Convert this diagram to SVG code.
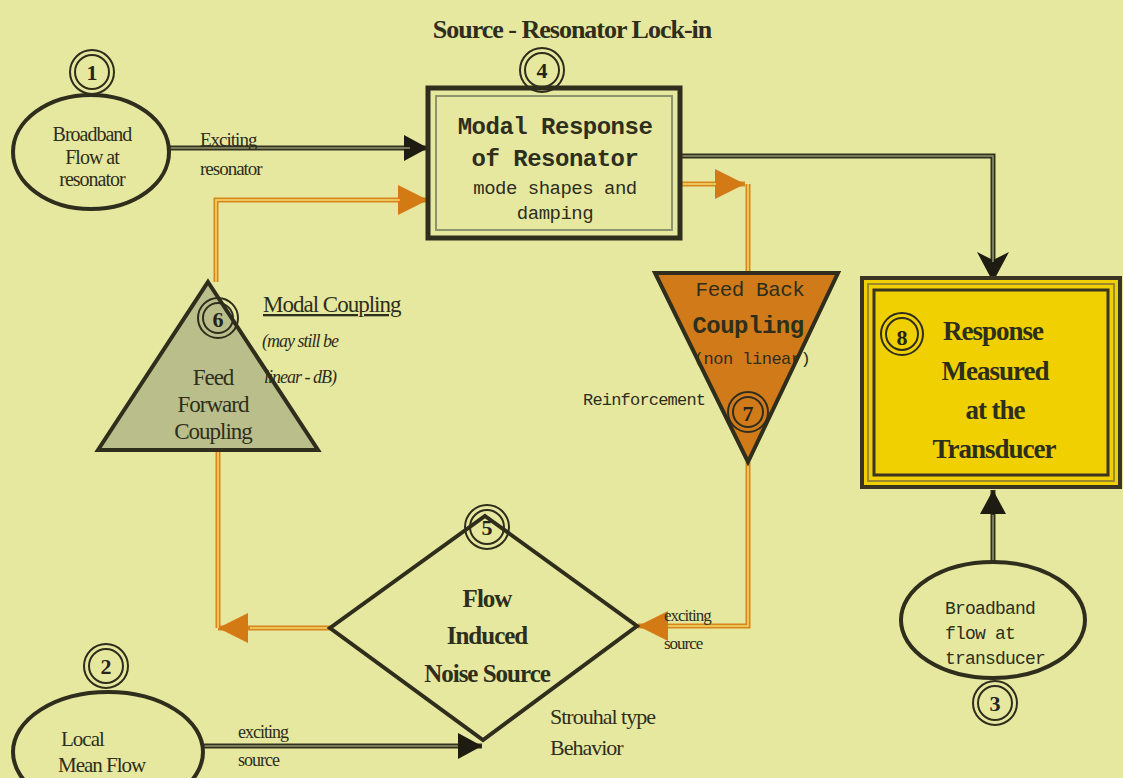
<svg xmlns="http://www.w3.org/2000/svg" width="1123" height="778" viewBox="0 0 1123 778">
<defs>
<style>
.dk{fill:none;stroke:#34321f;stroke-width:5}
.dkin{fill:none;stroke:#8e946e;stroke-width:1.5}
.or{fill:none;stroke:#d8861c;stroke-width:5}
.orin{fill:none;stroke:#f2da6a;stroke-width:1.5}
.shape{stroke:#2f2d1c;stroke-width:4}
.num{fill:none;stroke:#2f2d1c;stroke-width:2}
.numt{font-family:"Liberation Serif",serif;font-size:22px;font-weight:bold;fill:#262418;text-anchor:middle}
.serif{font-family:"Liberation Serif",serif;fill:#2e2e1c;text-anchor:middle;letter-spacing:-1px}
.lserif{font-family:"Liberation Serif",serif;fill:#2e2e1c;letter-spacing:-1px}
.mono{font-family:"Liberation Mono",monospace;fill:#2e2e1c;text-anchor:middle;letter-spacing:-0.5px}
.lmono{font-family:"Liberation Mono",monospace;fill:#2e2e1c;letter-spacing:-0.8px}
</style>
<marker id="ab" markerUnits="userSpaceOnUse" markerWidth="26" markerHeight="30" refX="24" refY="15" orient="auto"><path d="M0,2 L24,15 L0,28 Z" fill="#1e1c12"/></marker>
<marker id="ao" markerUnits="userSpaceOnUse" markerWidth="32" markerHeight="34" refX="30" refY="17" orient="auto"><path d="M0,2 L30,17 L0,32 Z" fill="#d47a14"/></marker>
<marker id="abarb" markerUnits="userSpaceOnUse" markerWidth="32" markerHeight="36" refX="30" refY="18" orient="auto"><path d="M0,2 L30,18 L0,34 L8,18 Z" fill="#1e1c12"/></marker>
</defs>
<rect width="1123" height="778" fill="#e6e8a0"/>

<text x="572" y="38" class="serif" font-size="26" font-weight="bold">Source - Resonator Lock-in</text>

<g id="connectors">
<path d="M170,148 L428,148" class="dk" marker-end="url(#ab)"/>
<path d="M170,148 L410,148" class="dkin"/>
<path d="M680,156 L993,156 L993,282" class="dk" marker-end="url(#abarb)"/>
<path d="M680,156 L993,156 L993,262" class="dkin"/>
<path d="M993,562 L993,490" class="dk" marker-end="url(#ab)"/>
<path d="M993,562 L993,515" class="dkin"/>
<path d="M203,746 L482,746" class="dk" marker-end="url(#ab)"/>
<path d="M203,746 L458,746" class="dkin"/>
<path d="M216,282 L216,200 L428,200" class="or" marker-end="url(#ao)"/>
<path d="M216,282 L216,200 L400,200" class="orin"/>
<path d="M680,184 L745,184" class="or" marker-end="url(#ao)"/>
<path d="M680,184 L716,184" class="orin"/>
<path d="M748,184 L748,273" class="or"/>
<path d="M748,184 L748,273" class="orin"/>
<path d="M748,462 L748,626 L638,626" class="or" marker-end="url(#ao)"/>
<path d="M748,462 L748,626 L668,626" class="orin"/>
<path d="M330,628 L218,628" class="or" marker-end="url(#ao)"/>
<path d="M330,628 L250,628" class="orin"/>
<path d="M218,450 L218,628" class="or"/>
<path d="M218,450 L218,628" class="orin"/>
<text x="200" y="146" class="lserif" font-size="19">Exciting</text>
<text x="200" y="175" class="lserif" font-size="19">resonator</text>
<text x="238" y="738" class="lserif" font-size="18">exciting</text>
<text x="238" y="766" class="lserif" font-size="18">source</text>
<text x="664" y="621" class="lserif" font-size="17">exciting</text>
<text x="664" y="649" class="lserif" font-size="17">source</text>
</g>

<g id="node1">
<ellipse cx="91" cy="152" rx="78" ry="57" fill="#e6e8a0" class="shape"/>
<circle cx="92" cy="72" r="22" fill="#e6e8a0" class="num"/>
<circle cx="92" cy="72" r="17" class="num"/>
<text x="92" y="80" class="numt">1</text>
<text x="92" y="141" class="serif" font-size="20">Broadband</text>
<text x="92" y="164" class="serif" font-size="20">Flow at</text>
<text x="92" y="186" class="serif" font-size="20">resonator</text>
</g>

<g id="node4">
<rect x="428" y="88" width="252" height="150" fill="#e6e8a0" stroke="#2f2d1c" stroke-width="5"/>
<rect x="436" y="96" width="236" height="134" fill="none" stroke="#8e946e" stroke-width="2"/>
<circle cx="542" cy="70" r="22" fill="#e6e8a0" class="num"/>
<circle cx="542" cy="70" r="17" class="num"/>
<text x="542" y="78" class="numt">4</text>
<text x="555" y="134" class="mono" font-size="24" font-weight="bold" letter-spacing="-0.8">Modal Response</text>
<text x="555" y="166" class="mono" font-size="24" font-weight="bold" letter-spacing="-0.8">of Resonator</text>
<text x="555" y="194" class="mono" font-size="19" letter-spacing="-0.8">mode shapes and</text>
<text x="555" y="219" class="mono" font-size="19" letter-spacing="-0.8">damping</text>
</g>

<g id="node8">
<rect x="862" y="278" width="258" height="209" fill="#f0d000" stroke="#3a3420" stroke-width="4"/>
<rect x="868" y="284" width="246" height="197" fill="none" stroke="#9c8a2a" stroke-width="2"/>
<rect x="874" y="290" width="234" height="185" fill="#f0d000" stroke="#3a3420" stroke-width="3"/>
<circle cx="902" cy="334" r="21" fill="#f0d000" class="num"/>
<circle cx="902" cy="334" r="16" class="num"/>
<text x="902" y="345" class="numt">8</text>
<text x="993" y="340" class="serif" font-size="27" font-weight="bold" letter-spacing="-1.5">Response</text>
<text x="995" y="380" class="serif" font-size="27" font-weight="bold" letter-spacing="-1.5">Measured</text>
<text x="995" y="419" class="serif" font-size="27" font-weight="bold" letter-spacing="-1.5">at the</text>
<text x="994" y="458" class="serif" font-size="27" font-weight="bold" letter-spacing="-1.5">Transducer</text>
</g>

<g id="node6">
<path d="M208,282 L318,450 L98,450 Z" fill="#b9be8a" class="shape"/>
<circle cx="218" cy="318" r="20" fill="#b9be8a" class="num"/>
<circle cx="218" cy="318" r="15" class="num"/>
<text x="218" y="327" class="numt">6</text>
<text x="213" y="385" class="serif" font-size="23" letter-spacing="-1.3">Feed</text>
<text x="213" y="412" class="serif" font-size="23" letter-spacing="-1.3">Forward</text>
<text x="213" y="439" class="serif" font-size="23" letter-spacing="-1.3">Coupling</text>
<text x="263" y="312" class="lserif" font-size="23" letter-spacing="-1.2" text-decoration="underline">Modal Coupling</text>
<text x="262" y="347" class="lserif" font-size="18" font-style="italic">(may still be</text>
<text x="264" y="383" class="lserif" font-size="18" font-style="italic">linear - dB)</text>
</g>

<g id="node7">
<path d="M655,273 L838,273 L748,462 Z" fill="#d07a1a" class="shape"/>
<circle cx="748" cy="412" r="20" fill="#d07a1a" class="num"/>
<circle cx="748" cy="412" r="15" class="num"/>
<text x="748" y="421" class="numt">7</text>
<text x="750" y="296" class="mono" font-size="21" letter-spacing="-1">Feed Back</text>
<text x="748" y="333" class="mono" font-size="24" font-weight="bold" letter-spacing="-1.2">Coupling</text>
<text x="752" y="364" class="mono" font-size="17" letter-spacing="-0.8">(non linear)</text>
<text x="583" y="405" class="lmono" font-size="17" letter-spacing="-1">Reinforcement</text>
</g>

<g id="node5">
<path d="M485,516 L637,626 L483,740 L330,628 Z" fill="#e6e8a0" class="shape"/>
<circle cx="487" cy="527" r="22" fill="#e6e8a0" class="num"/>
<circle cx="487" cy="527" r="17" class="num"/>
<text x="487" y="535" class="numt">5</text>
<text x="487" y="607" class="serif" font-size="25" font-weight="bold" letter-spacing="-1.5">Flow</text>
<text x="487" y="644" class="serif" font-size="25" font-weight="bold" letter-spacing="-1.5">Induced</text>
<text x="487" y="682" class="serif" font-size="25" font-weight="bold" letter-spacing="-1.5">Noise Source</text>
<text x="550" y="724" class="lserif" font-size="22">Strouhal type</text>
<text x="550" y="755" class="lserif" font-size="22">Behavior</text>
</g>

<g id="node2">
<ellipse cx="108" cy="752" rx="95" ry="60" fill="#e6e8a0" class="shape"/>
<circle cx="106" cy="666" r="22" fill="#e6e8a0" class="num"/>
<circle cx="106" cy="666" r="17" class="num"/>
<text x="106" y="674" class="numt">2</text>
<text x="61" y="746" class="lserif" font-size="21">Local</text>
<text x="58" y="772" class="lserif" font-size="21">Mean Flow</text>
</g>

<g id="node3">
<ellipse cx="993" cy="620" rx="92" ry="58" fill="#e6e8a0" class="shape"/>
<circle cx="995" cy="703" r="22" fill="#e6e8a0" class="num"/>
<circle cx="995" cy="703" r="17" class="num"/>
<text x="995" y="711" class="numt">3</text>
<text x="945" y="614" class="lmono" font-size="18">Broadband</text>
<text x="945" y="639" class="lmono" font-size="18">flow at</text>
<text x="945" y="664" class="lmono" font-size="18">transducer</text>
</g>
</svg>
